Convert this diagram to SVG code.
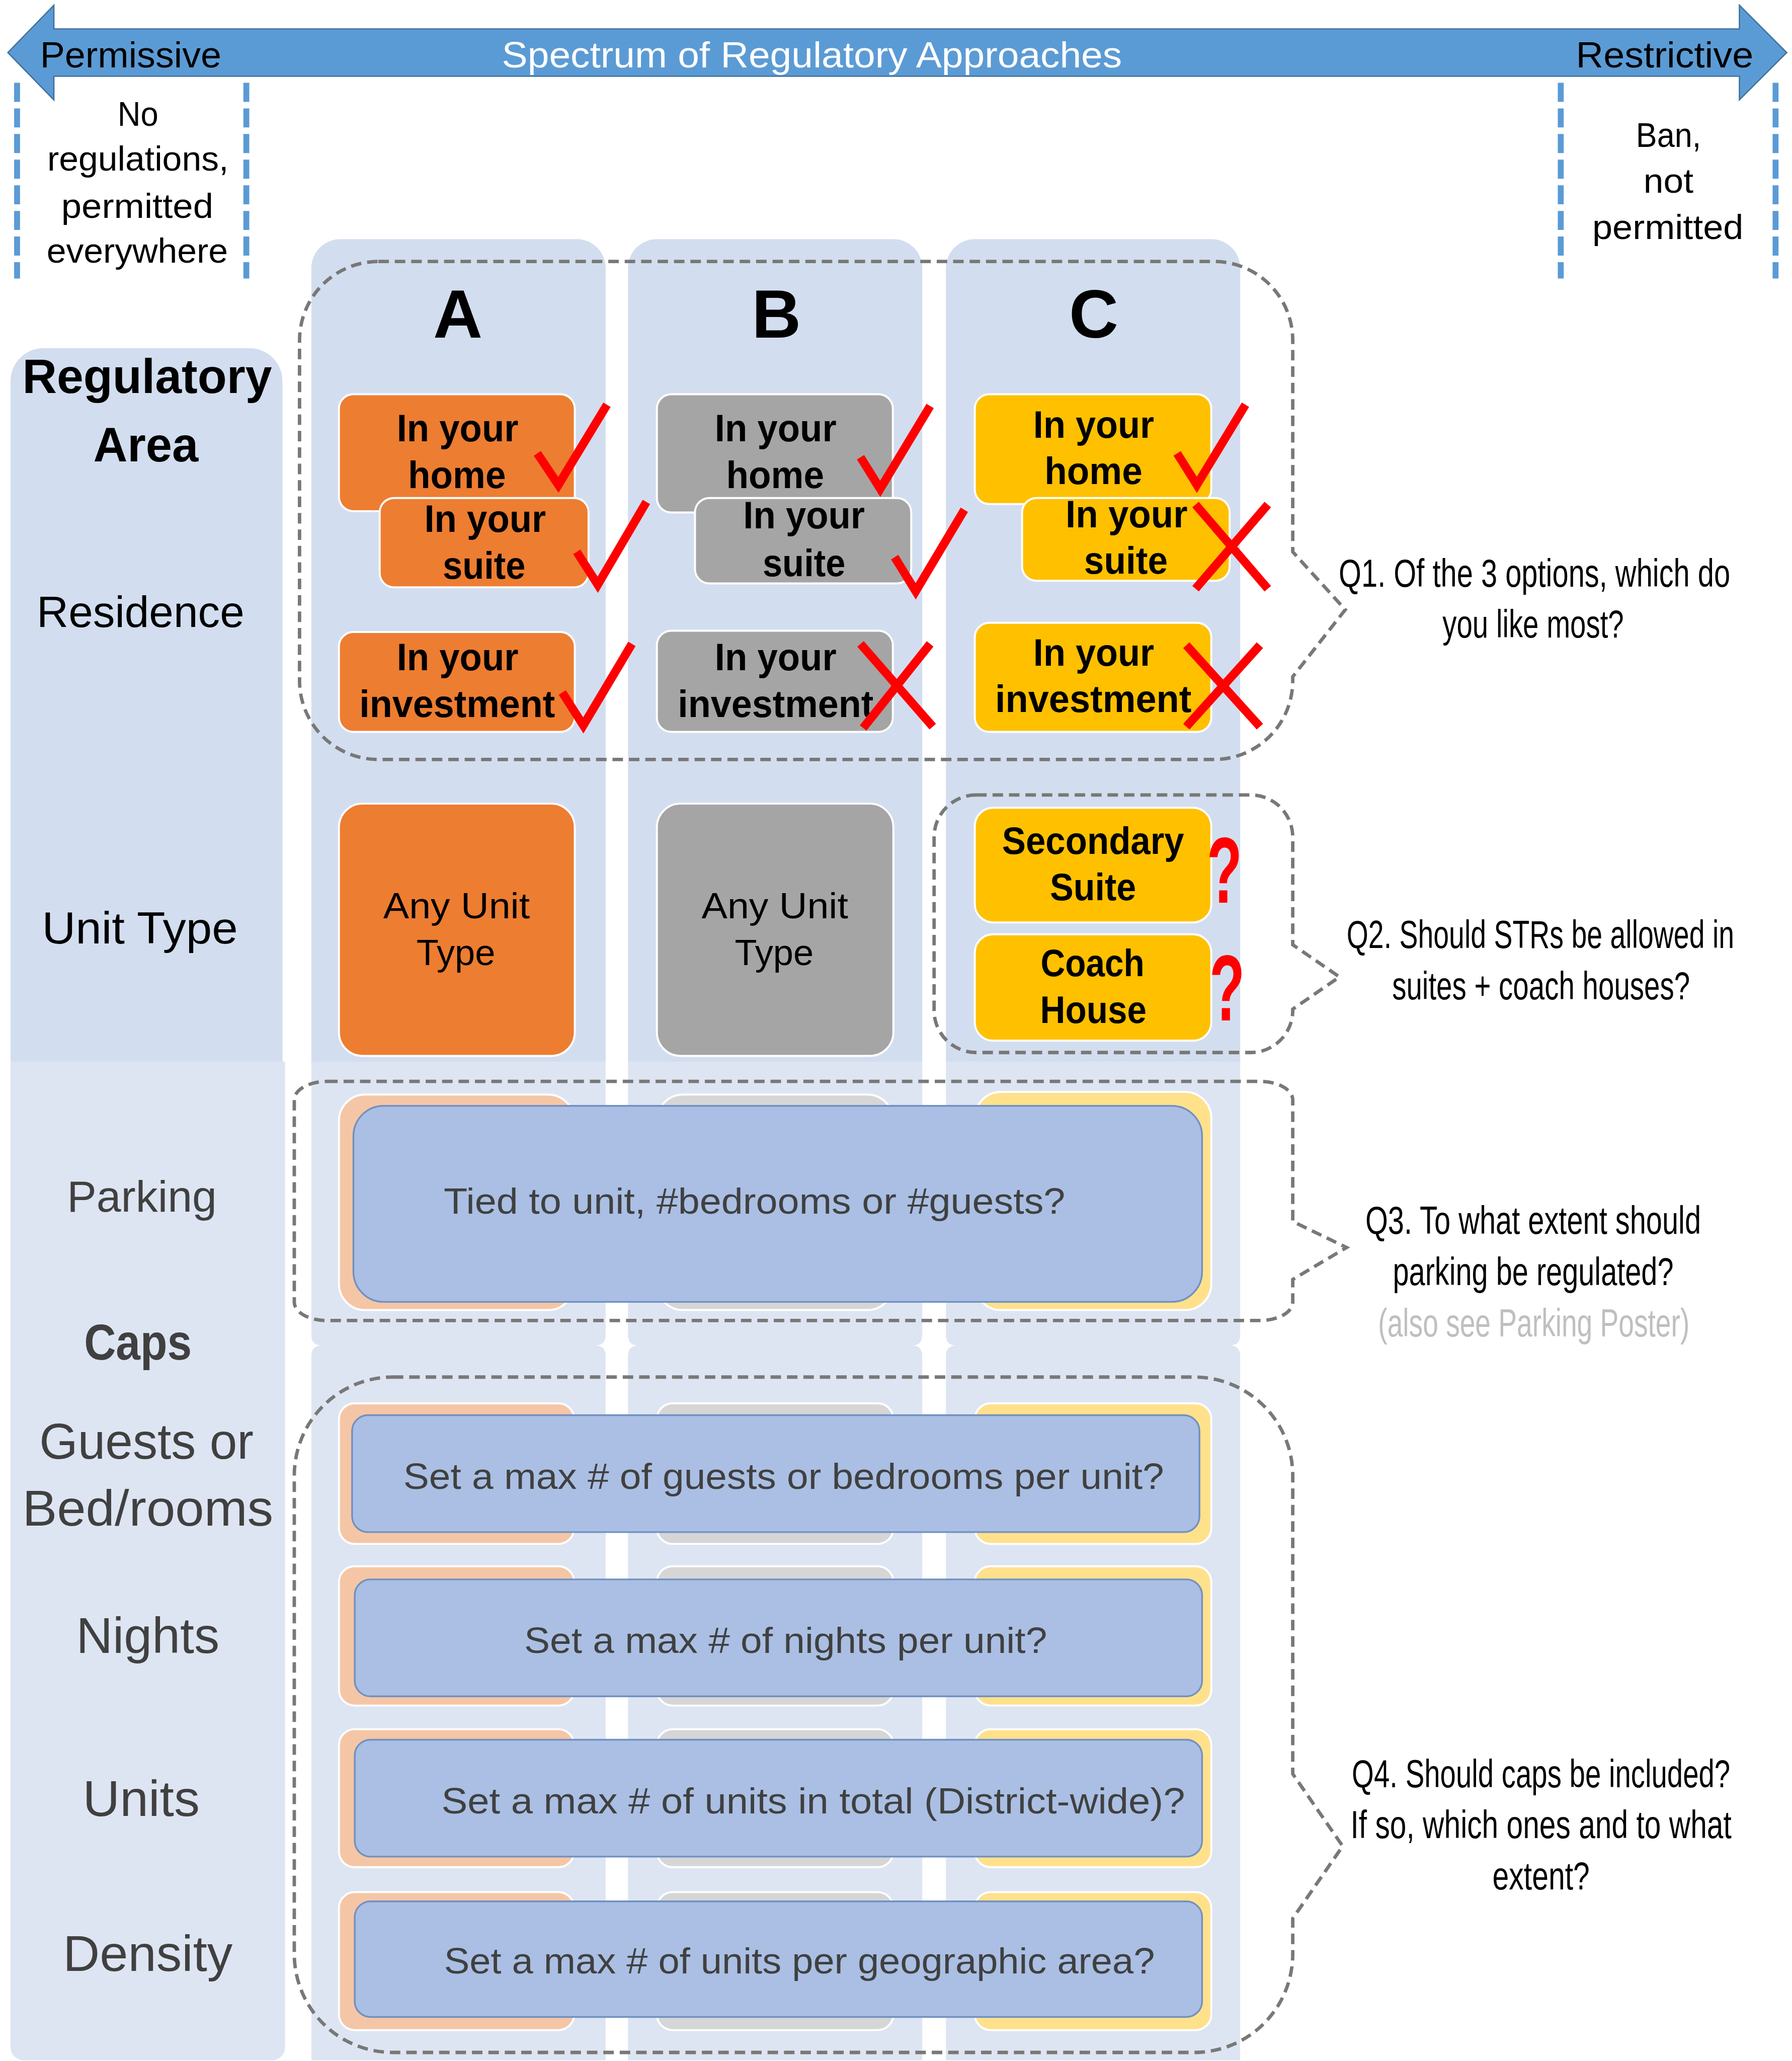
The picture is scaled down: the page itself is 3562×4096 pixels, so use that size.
<svg xmlns="http://www.w3.org/2000/svg" width="3562" height="4096" viewBox="0 0 3562 4096">
<style>
text{font-family:"Liberation Sans",Arial,sans-serif;}
.m{text-anchor:middle}
.b{font-weight:bold}
.k{fill:#000}
.g{fill:#404040}
.q{font-size:20.5px}
.up{fill:#D2DEEF}
.lo{fill:#DEE5F2}
.or{fill:#ED7D31;stroke:#fff;stroke-width:1.5}
.gr{fill:#A5A5A5;stroke:#fff;stroke-width:1.5}
.ye{fill:#FFC000;stroke:#fff;stroke-width:1.5}
.orf{fill:#F5C6A5;stroke:#fff;stroke-width:1.5}
.grf{fill:#D6D6D6;stroke:#fff;stroke-width:1.5}
.yef{fill:#FFE18C;stroke:#fff;stroke-width:1.5}
.bl{fill:#AABFE3;stroke:#7190C2;stroke-width:1.3}
.mark{fill:none;stroke:#FF0000;stroke-width:6.5;stroke-linejoin:miter;stroke-linecap:butt}
.dash{fill:none;stroke:#787878;stroke-width:2.6;stroke-dasharray:8 4.5}
.bdash{stroke:#5B9BD5;stroke-width:4.5;stroke-dasharray:14.5 5}
</style>
<rect width="3562" height="4096" fill="#fff"/>
<g transform="scale(2.6114)">
  <!-- spectrum arrow -->
  <g id="spectrum">
    <polygon points="41,22 1324,22 1324,4 1360,40 1324,76 1324,58 41,58 41,76 6,40 41,4" fill="#5B9BD5" stroke="#41719C" stroke-width="1"/>
    <text x="30.5" y="51.3" font-size="28" textLength="138" lengthAdjust="spacingAndGlyphs" class="k">Permissive</text>
    <text x="382" y="51.3" font-size="28" textLength="472" lengthAdjust="spacingAndGlyphs" fill="#fff">Spectrum of Regulatory Approaches</text>
    <text x="1199.6" y="51.3" font-size="28" textLength="135" lengthAdjust="spacingAndGlyphs" class="k">Restrictive</text>
  </g>
  <g id="permissive-end">
    <line x1="13" y1="63" x2="13" y2="212" class="bdash"/>
    <line x1="187.5" y1="63" x2="187.5" y2="212" class="bdash"/>
    <text class="m k" font-size="26" x="105" y="95.6" textLength="31" lengthAdjust="spacingAndGlyphs">No</text>
    <text class="m k" font-size="26" x="105" y="130" textLength="138" lengthAdjust="spacingAndGlyphs">regulations,</text>
    <text class="m k" font-size="26" x="104.5" y="166" textLength="115.7" lengthAdjust="spacingAndGlyphs">permitted</text>
    <text class="m k" font-size="26" x="104.5" y="200" textLength="138" lengthAdjust="spacingAndGlyphs">everywhere</text>
  </g>
  <g id="restrictive-end">
    <line x1="1188" y1="63" x2="1188" y2="212" class="bdash"/>
    <line x1="1351.5" y1="63" x2="1351.5" y2="212" class="bdash"/>
    <text class="m k" font-size="26" x="1270" y="111.9" textLength="49.5" lengthAdjust="spacingAndGlyphs">Ban,</text>
    <text class="m k" font-size="26" x="1270" y="146.8" textLength="38" lengthAdjust="spacingAndGlyphs">not</text>
    <text class="m k" font-size="26" x="1269.5" y="181.8" textLength="115" lengthAdjust="spacingAndGlyphs">permitted</text>
  </g>

  <!-- panels -->
  <g id="panels">
    <path class="up" d="M8,808 V290 A25,25 0 0 1 33,265 H190 A25,25 0 0 1 215,290 V808 Z"/>
    <path class="lo" d="M8,808 H217 V1558 A10,10 0 0 1 207,1568 H18 A10,10 0 0 1 8,1558 Z"/>
    <path class="up" d="M237,808 V204 A22,22 0 0 1 259,182 H439 A22,22 0 0 1 461,204 V808 Z"/>
    <path class="up" d="M478,808 V204 A22,22 0 0 1 500,182 H680 A22,22 0 0 1 702,204 V808 Z"/>
    <path class="up" d="M720,808 V204 A22,22 0 0 1 742,182 H922 A22,22 0 0 1 944,204 V808 Z"/>
    <path class="lo" d="M237,808 H461 V1016 Q461,1024 453,1024 H245 Q237,1024 237,1016 Z"/>
    <path class="lo" d="M478,808 H702 V1016 Q702,1024 694,1024 H486 Q478,1024 478,1016 Z"/>
    <path class="lo" d="M720,808 H944 V1016 Q944,1024 936,1024 H728 Q720,1024 720,1016 Z"/>
    <path class="lo" d="M237,1568 V1032 Q237,1024 245,1024 H453 Q461,1024 461,1032 V1568 Z"/>
    <path class="lo" d="M478,1568 V1032 Q478,1024 486,1024 H694 Q702,1024 702,1032 V1568 Z"/>
    <path class="lo" d="M720,1568 V1032 Q720,1024 728,1024 H936 Q944,1024 944,1032 V1568 Z"/>
  </g>

  <!-- row labels -->
  <g id="row-labels">
    <text class="m k b" font-size="37" x="112" y="299" textLength="190" lengthAdjust="spacingAndGlyphs">Regulatory</text>
    <text class="m k b" font-size="37" x="111" y="351" textLength="80" lengthAdjust="spacingAndGlyphs">Area</text>
    <text class="m k" font-size="33.5" x="107" y="477" textLength="158" lengthAdjust="spacingAndGlyphs">Residence</text>
    <text class="m k" font-size="34" x="106.5" y="718" textLength="149" lengthAdjust="spacingAndGlyphs">Unit Type</text>
    <text class="m g" font-size="33.5" x="108" y="922.3" textLength="114" lengthAdjust="spacingAndGlyphs">Parking</text>
    <text class="m g b" font-size="38.5" x="105" y="1034.6" textLength="82" lengthAdjust="spacingAndGlyphs">Caps</text>
    <text class="m g" font-size="38" x="111.5" y="1110" textLength="163" lengthAdjust="spacingAndGlyphs">Guests or</text>
    <text class="m g" font-size="38" x="112.5" y="1161" textLength="191" lengthAdjust="spacingAndGlyphs">Bed/rooms</text>
    <text class="m g" font-size="38" x="112.5" y="1258" textLength="109" lengthAdjust="spacingAndGlyphs">Nights</text>
    <text class="m g" font-size="38" x="107.5" y="1382" textLength="89" lengthAdjust="spacingAndGlyphs">Units</text>
    <text class="m g" font-size="38" x="112.5" y="1500" textLength="129" lengthAdjust="spacingAndGlyphs">Density</text>
  </g>

  <!-- column headers -->
  <g id="col-headers">
    <text class="m k b" font-size="52" x="348.5" y="257">A</text>
    <text class="m k b" font-size="52" x="591" y="257">B</text>
    <text class="m k b" font-size="52" x="832.5" y="257">C</text>
  </g>

  <!-- Option A residence -->
  <g id="a-home">
    <rect class="or" x="258" y="300" width="179.5" height="89" rx="11"/>
    <text class="m k b" font-size="29" x="348.3" y="336" textLength="92.6" lengthAdjust="spacingAndGlyphs">In your</text>
    <text class="m k b" font-size="29" x="347.8" y="371.5" textLength="74.5" lengthAdjust="spacingAndGlyphs">home</text>
  </g>
  <g id="a-suite">
    <rect class="or" x="289" y="379" width="159" height="68" rx="11"/>
    <text class="m k b" font-size="29" x="369.3" y="404.6" textLength="92.6" lengthAdjust="spacingAndGlyphs">In your</text>
    <text class="m k b" font-size="29" x="368.5" y="440.4" textLength="63" lengthAdjust="spacingAndGlyphs">suite</text>
  </g>
  <g id="a-investment">
    <rect class="or" x="258" y="481" width="179.5" height="76" rx="11"/>
    <text class="m k b" font-size="29" x="348.3" y="510" textLength="92.6" lengthAdjust="spacingAndGlyphs">In your</text>
    <text class="m k b" font-size="29" x="348" y="545.6" textLength="149" lengthAdjust="spacingAndGlyphs">investment</text>
  </g>
  <!-- Option B residence -->
  <g id="b-home">
    <rect class="gr" x="500" y="300" width="179.6" height="90" rx="11"/>
    <text class="m k b" font-size="29" x="590.4" y="336" textLength="92.6" lengthAdjust="spacingAndGlyphs">In your</text>
    <text class="m k b" font-size="29" x="590" y="371.5" textLength="74.5" lengthAdjust="spacingAndGlyphs">home</text>
  </g>
  <g id="b-suite">
    <rect class="gr" x="529" y="379" width="164.6" height="65" rx="11"/>
    <text class="m k b" font-size="29" x="612" y="402" textLength="92.6" lengthAdjust="spacingAndGlyphs">In your</text>
    <text class="m k b" font-size="29" x="612" y="438.4" textLength="63" lengthAdjust="spacingAndGlyphs">suite</text>
  </g>
  <g id="b-investment">
    <rect class="gr" x="500" y="480" width="179.6" height="77" rx="11"/>
    <text class="m k b" font-size="29" x="590.4" y="510" textLength="92.6" lengthAdjust="spacingAndGlyphs">In your</text>
    <text class="m k b" font-size="29" x="590.4" y="545.6" textLength="149" lengthAdjust="spacingAndGlyphs">investment</text>
  </g>
  <!-- Option C residence -->
  <g id="c-home">
    <rect class="ye" x="742" y="300" width="180" height="83.6" rx="11"/>
    <text class="m k b" font-size="29" x="832.5" y="333" textLength="92" lengthAdjust="spacingAndGlyphs">In your</text>
    <text class="m k b" font-size="29" x="832.3" y="368.5" textLength="74.5" lengthAdjust="spacingAndGlyphs">home</text>
  </g>
  <g id="c-suite">
    <rect class="ye" x="778" y="379" width="158" height="63" rx="11"/>
    <text class="m k b" font-size="29" x="857.5" y="401.3" textLength="92.8" lengthAdjust="spacingAndGlyphs">In your</text>
    <text class="m k b" font-size="29" x="857" y="436.6" textLength="63.7" lengthAdjust="spacingAndGlyphs">suite</text>
  </g>
  <g id="c-investment">
    <rect class="ye" x="742" y="474" width="180" height="83" rx="11"/>
    <text class="m k b" font-size="29" x="832.5" y="506.8" textLength="92" lengthAdjust="spacingAndGlyphs">In your</text>
    <text class="m k b" font-size="29" x="832.2" y="542" textLength="149.5" lengthAdjust="spacingAndGlyphs">investment</text>
  </g>

  <!-- marks -->
  <g id="marks">
    <polyline class="mark" points="409,345 425,369 462,308"/>
    <polyline class="mark" points="439,420 455,445 492,382"/>
    <polyline class="mark" points="428,527 444,552 481,490"/>
    <polyline class="mark" points="655,348 670,372 708,309"/>
    <polyline class="mark" points="681,424 697,450 734,388"/>
    <path class="mark" d="M655,490 L710,553 M708,490 L657,554"/>
    <polyline class="mark" points="896,345 911,369 948,308"/>
    <path class="mark" d="M910,384 L965,448 M965,384 L910,448"/>
    <path class="mark" d="M903,491 L959,553 M959,491 L903,553"/>
  </g>

  <!-- Unit type -->
  <g id="a-unit">
    <rect class="or" x="258" y="611.6" width="179.5" height="192" rx="18"/>
    <text class="m k" font-size="28" x="347.5" y="698.7" textLength="111.6" lengthAdjust="spacingAndGlyphs">Any Unit</text>
    <text class="m k" font-size="28" x="347" y="734.6" textLength="60" lengthAdjust="spacingAndGlyphs">Type</text>
  </g>
  <g id="b-unit">
    <rect class="gr" x="500" y="611.6" width="180" height="192" rx="18"/>
    <text class="m k" font-size="28" x="589.8" y="698.7" textLength="111.6" lengthAdjust="spacingAndGlyphs">Any Unit</text>
    <text class="m k" font-size="28" x="589.3" y="734.6" textLength="60" lengthAdjust="spacingAndGlyphs">Type</text>
  </g>
  <g id="c-secondary-suite">
    <rect class="ye" x="742" y="614.7" width="180" height="87.3" rx="14"/>
    <text class="m k b" font-size="29" x="832" y="650" textLength="138.6" lengthAdjust="spacingAndGlyphs">Secondary</text>
    <text class="m k b" font-size="29" x="832" y="685" textLength="65.6" lengthAdjust="spacingAndGlyphs">Suite</text>
    <text class="b" font-size="71" fill="#FF0000" transform="translate(932,687) scale(0.62,1)" text-anchor="middle">?</text>
  </g>
  <g id="c-coach-house">
    <rect class="ye" x="742" y="711" width="180" height="81" rx="14"/>
    <text class="m k b" font-size="29" x="831.6" y="742.8" textLength="79" lengthAdjust="spacingAndGlyphs">Coach</text>
    <text class="m k b" font-size="29" x="832.2" y="778.5" textLength="81" lengthAdjust="spacingAndGlyphs">House</text>
    <text class="b" font-size="71" fill="#FF0000" transform="translate(934,776.5) scale(0.62,1)" text-anchor="middle">?</text>
  </g>

  <!-- Parking -->
  <g id="parking">
    <rect class="orf" x="258" y="833" width="179" height="164" rx="20"/>
    <rect class="grf" x="500" y="833" width="180" height="164" rx="20"/>
    <rect class="yef" x="742" y="831" width="180" height="166" rx="20"/>
    <rect class="bl" x="269" y="841.6" width="646" height="149.2" rx="23"/>
    <text class="m g" font-size="28" x="574.3" y="923.5" textLength="473" lengthAdjust="spacingAndGlyphs">Tied to unit, #bedrooms or #guests?</text>
  </g>

  <!-- Caps -->
  <g id="cap-guests">
    <rect class="orf" x="258" y="1068" width="179" height="107" rx="12"/>
    <rect class="grf" x="500" y="1068" width="180" height="107" rx="12"/>
    <rect class="yef" x="742" y="1068" width="180" height="107" rx="12"/>
    <rect class="bl" x="268" y="1077" width="645" height="89" rx="12"/>
    <text class="m g" font-size="28" x="596.5" y="1133" textLength="579" lengthAdjust="spacingAndGlyphs">Set a max # of guests or bedrooms per unit?</text>
  </g>
  <g id="cap-nights">
    <rect class="orf" x="258" y="1192" width="179" height="106" rx="12"/>
    <rect class="grf" x="500" y="1192" width="180" height="106" rx="12"/>
    <rect class="yef" x="742" y="1192" width="180" height="106" rx="12"/>
    <rect class="bl" x="270" y="1202" width="645" height="89" rx="12"/>
    <text class="m g" font-size="28" x="598" y="1258" textLength="398" lengthAdjust="spacingAndGlyphs">Set a max # of nights per unit?</text>
  </g>
  <g id="cap-units">
    <rect class="orf" x="258" y="1316" width="179" height="105" rx="12"/>
    <rect class="grf" x="500" y="1316" width="180" height="105" rx="12"/>
    <rect class="yef" x="742" y="1316" width="180" height="105" rx="12"/>
    <rect class="bl" x="270" y="1324" width="645" height="89" rx="12"/>
    <text class="m g" font-size="28" x="619" y="1380" textLength="566" lengthAdjust="spacingAndGlyphs">Set a max # of units in total (District-wide)?</text>
  </g>
  <g id="cap-density">
    <rect class="orf" x="258" y="1440" width="179" height="105" rx="12"/>
    <rect class="grf" x="500" y="1440" width="180" height="105" rx="12"/>
    <rect class="yef" x="742" y="1440" width="180" height="105" rx="12"/>
    <rect class="bl" x="270" y="1447" width="645" height="88" rx="12"/>
    <text class="m g" font-size="28" x="608.5" y="1502" textLength="541" lengthAdjust="spacingAndGlyphs">Set a max # of units per geographic area?</text>
  </g>

  <!-- callouts -->
  <g id="connectors">
    <path class="dash" d="M288,199 H924 A60,60 0 0 1 984,259 V420 L1024,464 L984,515 V518 A60,60 0 0 1 924,578 H288 A60,60 0 0 1 228,518 V259 A60,60 0 0 1 288,199 Z"/>
    <path class="dash" d="M743,605 H952 A32,32 0 0 1 984,637 V719 L1019.6,743.5 L984,768 V769 A32,32 0 0 1 952,801 H743 A32,32 0 0 1 711,769 V637 A32,32 0 0 1 743,605 Z"/>
    <path class="dash" d="M249,823 H959 A25,14 0 0 1 984,837 V929.6 L1025,949.4 L984,973.7 V991 A25,14 0 0 1 959,1005 H249 A25,14 0 0 1 224,991 V837 A25,14 0 0 1 249,823 Z"/>
    <path class="dash" d="M299,1048 H909 A75,75 0 0 1 984,1123 V1350 L1022,1405 L984,1460 V1487 A75,75 0 0 1 909,1562 H299 A75,75 0 0 1 224,1487 V1123 A75,75 0 0 1 299,1048 Z"/>
  </g>

  <!-- questions -->
  <g id="q1">
    <text class="m k q" x="1168" y="446.6" transform="matrix(1 0 0 1.4634 0 -206.95)" textLength="298" lengthAdjust="spacingAndGlyphs">Q1. Of the 3 options, which do</text>
    <text class="m k q" x="1167" y="485" transform="matrix(1 0 0 1.4634 0 -224.75)" textLength="138" lengthAdjust="spacingAndGlyphs">you like most?</text>
  </g>
  <g id="q2">
    <text class="m k q" x="1172.5" y="721.6" transform="matrix(1 0 0 1.4634 0 -334.39)" textLength="295" lengthAdjust="spacingAndGlyphs">Q2. Should STRs be allowed in</text>
    <text class="m k q" x="1173" y="760.5" transform="matrix(1 0 0 1.4634 0 -352.42)" textLength="226.7" lengthAdjust="spacingAndGlyphs">suites + coach houses?</text>
  </g>
  <g id="q3">
    <text class="m k q" x="1167" y="939" transform="matrix(1 0 0 1.4634 0 -435.13)" textLength="255.5" lengthAdjust="spacingAndGlyphs">Q3. To what extent should</text>
    <text class="m k q" x="1167" y="978" transform="matrix(1 0 0 1.4634 0 -453.21)" textLength="213.7" lengthAdjust="spacingAndGlyphs">parking be regulated?</text>
    <text class="m q" fill="#BFBFBF" x="1167.5" y="1017" transform="matrix(1 0 0 1.4634 0 -471.28)" textLength="237" lengthAdjust="spacingAndGlyphs">(also see Parking Poster)</text>
  </g>
  <g id="q4">
    <text class="m k q" x="1173" y="1360" transform="matrix(1 0 0 1.4634 0 -630.22)" textLength="288" lengthAdjust="spacingAndGlyphs">Q4. Should caps be included?</text>
    <text class="m k q" x="1173" y="1399" transform="matrix(1 0 0 1.4634 0 -648.30)" textLength="290" lengthAdjust="spacingAndGlyphs">If so, which ones and to what</text>
    <text class="m k q" x="1173" y="1438" transform="matrix(1 0 0 1.4634 0 -666.37)" textLength="74" lengthAdjust="spacingAndGlyphs">extent?</text>
  </g>
</g>
</svg>
